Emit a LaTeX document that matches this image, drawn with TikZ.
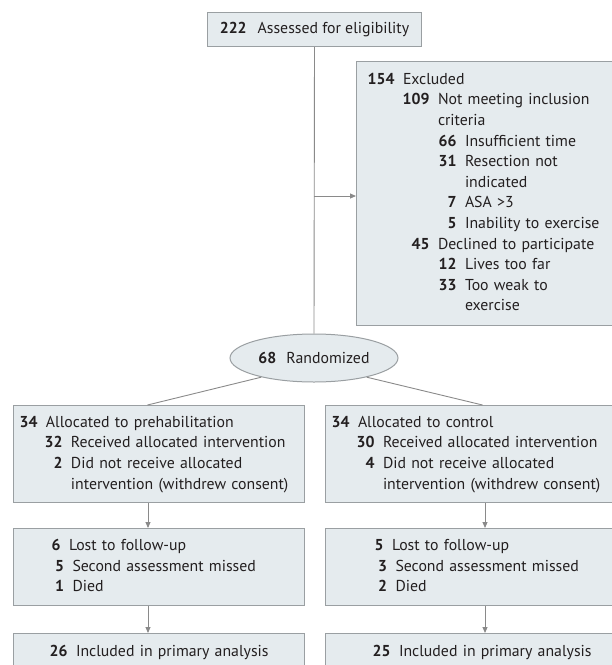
\documentclass[tikz,border=0pt]{standalone}
\usepackage{fontspec}
\setmainfont{PT Sans}
\usetikzlibrary{arrows.meta,shapes.geometric,calc}
\definecolor{boxfill}{HTML}{E5EBEE}
\definecolor{boxline}{HTML}{9A9FA2}
\definecolor{connc}{HTML}{8A8A8A}
\definecolor{txt}{HTML}{231F20}
\newcommand\nrow[3]{\makebox[0pt][l]{\hspace*{#1pt}\llap{\bfseries #2}\hspace*{8.5pt}#3}\strut}
\newcommand\crow[2]{\makebox[0pt][l]{\hspace*{#1pt}#2}\strut}
\begin{document}
\begin{tikzpicture}[x=1pt,y=-1pt,
  font=\fontsize{15.8}{20.6}\selectfont, text=txt,
  box/.style={draw=boxline, fill=boxfill, line width=1pt, anchor=north west, align=left, inner ysep=0pt},
  conn/.style={draw=connc, line width=0.9pt},
  connarr/.style={draw=connc, line width=0.9pt, -{Triangle[length=6pt,width=5pt]}, fill=connc}]
\useasboundingbox (0,0) rectangle (612,665);
\clip (0,0) rectangle (612,665);

\node[box, align=center, minimum width=214pt, minimum height=34pt, inner xsep=0pt] (top) at (207,12)
  {\textbf{222}\hspace{11pt}Assessed for eligibility};

\node[box, text width=241pt, inner xsep=10pt, minimum height=264pt] (excl) at (356,61) {%
\nrow{28}{154}{Excluded}\\
\nrow{63}{109}{Not meeting inclusion}\\
\crow{71.5}{criteria}\\
\nrow{90}{66}{Insufficient time}\\
\nrow{90}{31}{Resection not}\\
\crow{98.5}{indicated}\\
\nrow{90}{7}{ASA >3}\\
\nrow{90}{5}{Inability to exercise}\\
\nrow{63}{45}{Declined to participate}\\
\nrow{90}{12}{Lives too far}\\
\nrow{90}{33}{Too weak to}\\
\crow{98.5}{exercise}};

\node[ellipse, draw=boxline, fill=boxfill, line width=1pt, minimum width=168pt, minimum height=48pt, inner sep=0pt] (rand) at (314,358)
  {\textbf{68}\hspace{10pt}Randomized};

\node[box, text width=275pt, inner xsep=8pt, minimum height=97pt] (allocL) at (13,405) {%
\nrow{16}{34}{Allocated to prehabilitation}\\
\nrow{41}{32}{Received allocated intervention}\\
\nrow{41}{2}{Did not receive allocated}\\
\crow{49.5}{intervention (withdrew consent)}};

\node[box, text width=276pt, inner xsep=8pt, minimum height=97pt] (allocR) at (325,405) {%
\nrow{16}{34}{Allocated to control}\\
\nrow{41}{30}{Received allocated intervention}\\
\nrow{41}{4}{Did not receive allocated}\\
\crow{49.5}{intervention (withdrew consent)}};

\node[box, text width=271pt, inner xsep=10pt, minimum height=77pt] (lostL) at (13,528) {%
\nrow{37}{6}{Lost to follow-up}\\
\nrow{40.5}{5}{Second assessment missed}\\
\nrow{40.5}{1}{Died}};

\node[box, text width=250pt, inner xsep=21pt, minimum height=77pt] (lostR) at (325,528) {%
\nrow{37}{5}{Lost to follow-up}\\
\nrow{40.5}{3}{Second assessment missed}\\
\nrow{40.5}{2}{Died}};

\node[box, text width=271pt, inner xsep=10pt, minimum height=38pt] (inclL) at (13,633) {%
\nrow{44}{26}{Included in primary analysis}};

\node[box, text width=250pt, inner xsep=21pt, minimum height=38pt] (inclR) at (325,633) {%
\nrow{44}{25}{Included in primary analysis}};

\draw[conn] (top.south) -- (rand.north);
\coordinate (ex) at (314,196);
\draw[connarr] (ex) -- (ex -| excl.west);
\draw[conn] (rand.200) -- ([xshift=-11.5pt]allocL.north);
\draw[conn] (rand.-20) -- ([xshift=11pt]allocR.north);
\draw[connarr] ([xshift=-11pt]allocL.south) -- ([xshift=-11pt]lostL.north);
\draw[connarr] ([xshift=13.5pt]allocR.south) -- ([xshift=13.5pt]lostR.north);
\draw[connarr] ([xshift=-11pt]lostL.south) -- ([xshift=-11pt]inclL.north);
\draw[connarr] ([xshift=13.5pt]lostR.south) -- ([xshift=13.5pt]inclR.north);
\end{tikzpicture}
\end{document}
